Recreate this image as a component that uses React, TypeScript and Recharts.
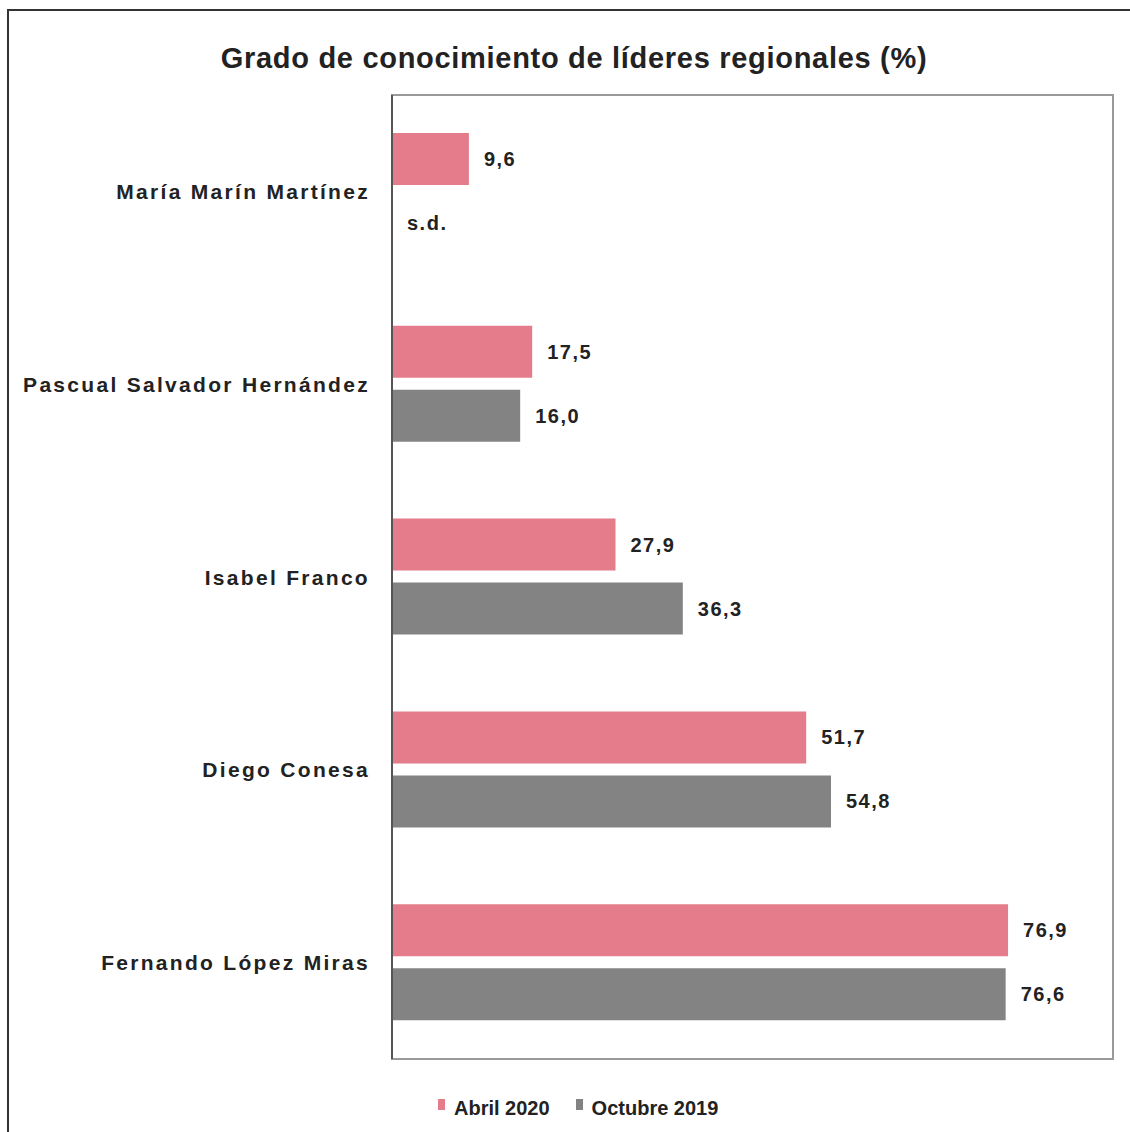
import React from "react";
import { BarChart, Bar, XAxis, YAxis, LabelList, ReferenceArea } from "recharts";

const categories = [
  "María Marín Martínez",
  "Pascual Salvador Hernández",
  "Isabel Franco",
  "Diego Conesa",
  "Fernando López Miras",
];
const abril2020: (number | null)[] = [9.6, 17.5, 27.9, 51.7, 76.9];
const octubre2019: (number | null)[] = [null, 16.0, 36.3, 54.8, 76.6];
const seriesNames = ["Abril 2020", "Octubre 2019"];
const colors = ["#E47C8B", "#838383"];
const title = "Grado de conocimiento de líderes regionales (%)";
const missingLabel = "s.d.";

const data = categories.map((c, i) => ({
  name: c,
  abril: abril2020[i],
  octubre: octubre2019[i],
}));

const FONT = "'Liberation Sans', Arial, Helvetica, sans-serif";
const BAR = 52;
const GAP = 12;

const fmt = (v: number) => v.toFixed(1).replace(".", ",");

const labelStyle = {
  fontFamily: FONT,
  fontWeight: "bold" as const,
  fontSize: 20,
  fill: "#222",
  letterSpacing: 1.5,
};

const AbrilLabel = (props: any) => {
  const { x, y, width, height, value, index } = props;
  const cy = Number(y) + Number(height) / 2;
  const missing = octubre2019[index] == null;
  return (
    <g>
      <text x={Number(x) + Number(width) + 15} y={cy} dominantBaseline="central" {...labelStyle}>
        {fmt(Number(value))}
      </text>
      {missing && (
        <text x={Number(x) + 15} y={cy + Number(height) + GAP} dominantBaseline="central" {...labelStyle}>
          {missingLabel}
        </text>
      )}
    </g>
  );
};

const OctLabel = (props: any) => {
  const { x, y, width, height, value } = props;
  if (value == null) return null;
  return (
    <text
      x={Number(x) + Number(width) + 15}
      y={Number(y) + Number(height) / 2}
      dominantBaseline="central"
      {...labelStyle}
    >
      {fmt(Number(value))}
    </text>
  );
};

const CatTick = (props: any) => {
  const { x, y, payload } = props;
  return (
    <text
      x={x}
      y={y}
      textAnchor="end"
      dominantBaseline="central"
      fontFamily={FONT}
      fontWeight="bold"
      fontSize={21}
      letterSpacing={2.3}
      fill="#222"
    >
      {payload.value}
    </text>
  );
};

export default function App() {
  return (
    <div style={{ position: "absolute", left: 0, top: 0, width: 1130, height: 1132, background: "#fff", overflow: "hidden" }}>
      <div
        style={{
          position: "absolute",
          left: 7,
          top: 9,
          width: 1140,
          height: 1140,
          borderLeft: "2px solid #333",
          borderTop: "2px solid #333",
        }}
      />
      <div
        style={{
          position: "absolute",
          left: 0,
          width: 1148,
          top: 41,
          textAlign: "center",
          fontFamily: FONT,
          fontWeight: "bold",
          fontSize: 29,
          color: "#222",
          letterSpacing: 0.7,
          lineHeight: "34px",
        }}
      >
        {title}
      </div>
      <div style={{ position: "absolute", left: 0, top: 0 }}>
        <BarChart
          width={1130}
          height={1132}
          data={data}
          layout="vertical"
          margin={{ top: 95, right: 17, bottom: 73, left: 0 }}
          barSize={BAR}
          barGap={GAP}
        >
          <ReferenceArea x1={0} x2={90} fill="none" stroke="#9a9a9a" strokeWidth={2} ifOverflow="visible" />
          <XAxis type="number" domain={[0, 90]} hide />
          <YAxis
            type="category"
            dataKey="name"
            width={392}
            axisLine={{ stroke: "#555", strokeWidth: 2 }}
            tickLine={false}
            tickSize={0}
            tickMargin={22}
            tick={<CatTick />}
            interval={0}
          />
          <Bar dataKey="abril" name={seriesNames[0]} fill={colors[0]} isAnimationActive={false}>
            <LabelList dataKey="abril" content={<AbrilLabel />} />
          </Bar>
          <Bar dataKey="octubre" name={seriesNames[1]} fill={colors[1]} isAnimationActive={false}>
            <LabelList dataKey="octubre" content={<OctLabel />} />
          </Bar>
        </BarChart>
      </div>
      <div
        style={{
          position: "absolute",
          left: 438,
          top: 1096,
          display: "flex",
          alignItems: "center",
          fontFamily: FONT,
          fontWeight: "bold",
          fontSize: 20,
          color: "#222",
          lineHeight: "24px",
        }}
      >
        {seriesNames.map((n, i) => (
          <span key={n} style={{ display: "flex", alignItems: "center", marginRight: i === 0 ? 26 : 0 }}>
            <span
              style={{
                display: "inline-block",
                width: 7,
                height: 11,
                background: colors[i],
                marginRight: 9,
                marginTop: -7,
              }}
            />
            {n}
          </span>
        ))}
      </div>
    </div>
  );
}
